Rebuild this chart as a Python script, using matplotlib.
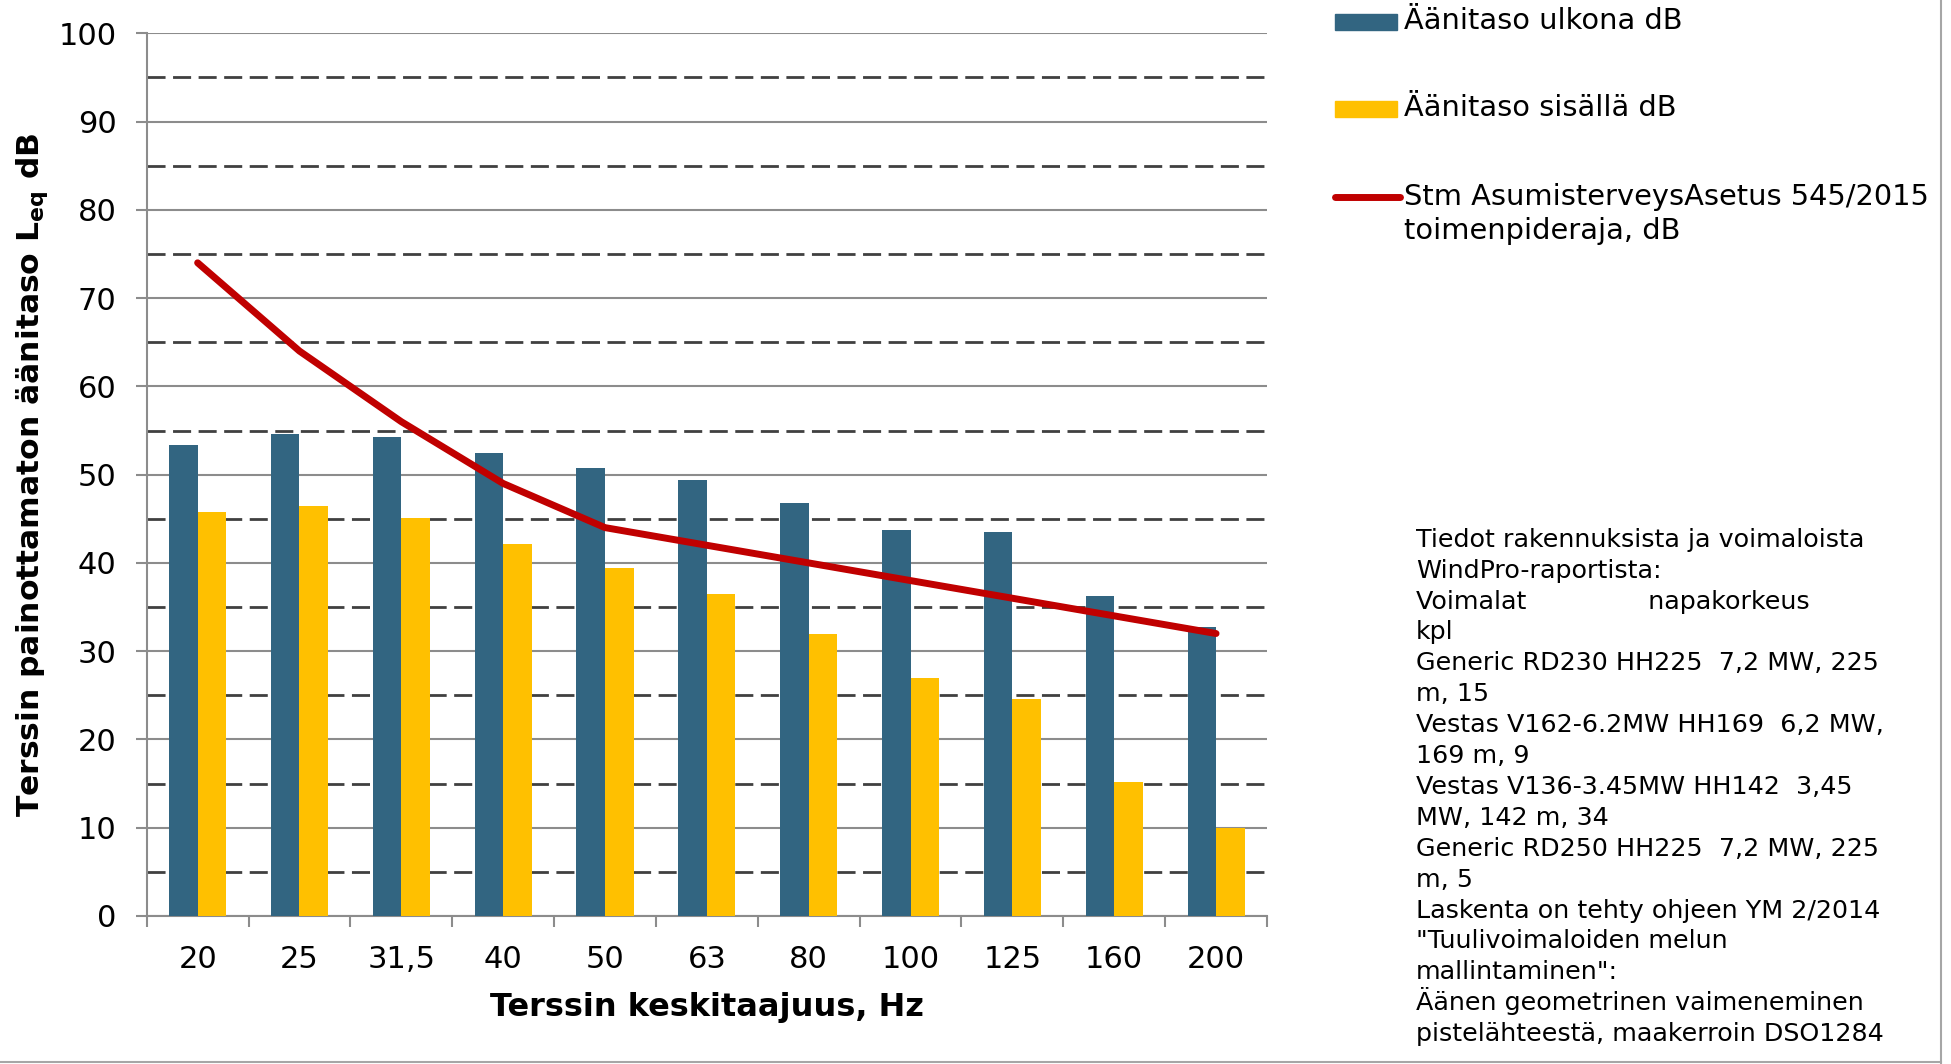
import numpy as np
import matplotlib.pyplot as plt
from matplotlib.lines import Line2D
from matplotlib.patches import Rectangle
from matplotlib.ticker import MultipleLocator

plt.rcParams["font.family"] = ["DejaVu Sans"]
plt.rcParams["mathtext.fontset"] = "dejavusans"

# data
taajuudet = ["20", "25", "31,5", "40", "50", "63", "80", "100", "125", "160", "200"]
ulkona = [53.4, 54.6, 54.3, 52.4, 50.8, 49.4, 46.8, 43.7, 43.5, 36.3, 32.7]
sisalla = [45.8, 46.4, 45.1, 42.2, 39.4, 36.5, 32.0, 27.0, 24.6, 15.2, 10.0]
raja = [74, 64, 56, 49, 44, 42, 40, 38, 36, 34, 32]

nimi_ulkona = "Äänitaso ulkona dB"
nimi_sisalla = "Äänitaso sisällä dB"
nimi_raja = ["Stm AsumisterveysAsetus 545/2015", "toimenpideraja, dB"]

tiedot = [
    "Tiedot rakennuksista ja voimaloista",
    "WindPro-raportista:",
    "Voimalat               napakorkeus",
    "kpl",
    "Generic RD230 HH225  7,2 MW, 225",
    "m, 15",
    "Vestas V162-6.2MW HH169  6,2 MW,",
    "169 m, 9",
    "Vestas V136-3.45MW HH142  3,45",
    "MW, 142 m, 34",
    "Generic RD250 HH225  7,2 MW, 225",
    "m, 5",
    "Laskenta on tehty ohjeen YM 2/2014",
    "\"Tuulivoimaloiden melun",
    "mallintaminen\":",
    "Äänen geometrinen vaimeneminen",
    "pistelähteestä, maakerroin DSO1284",
]

SININEN = "#326581"
KELTAINEN = "#FFC000"
PUNAINEN = "#C00000"
HARMAA = "#8c8c8c"

fig = plt.figure(figsize=(19.51, 10.64), dpi=100)
ax = fig.add_axes([0.0752, 0.1391, 0.5742, 0.8296])

x = np.arange(len(taajuudet))
w = 0.28
ax.bar(x - w / 2, ulkona, w, color=SININEN, zorder=3)
ax.bar(x + w / 2, sisalla, w, color=KELTAINEN, zorder=3)
ax.plot(x, raja, color=PUNAINEN, lw=5, solid_capstyle="round", zorder=4)

ax.set_xlim(-0.5, len(x) - 0.5)
ax.set_ylim(0, 100)
ax.yaxis.set_major_locator(MultipleLocator(10))
ax.yaxis.set_minor_locator(MultipleLocator(5))
ax.grid(axis="y", which="major", color=HARMAA, lw=1.5, zorder=1)
ax.grid(axis="y", which="minor", color="#404040", lw=2, ls=(0, (6.5, 2.7)), zorder=1)

ax.set_xticks(x, taajuudet)
ax.set_xticks(np.arange(-0.5, len(x), 1), minor=True)
ax.tick_params(axis="x", which="major", length=0, pad=21, labelsize=22)
ax.tick_params(axis="x", which="minor", length=7.7, width=1.5, color=HARMAA)
ax.tick_params(axis="y", which="major", length=7.7, width=1.5, color=HARMAA,
               pad=14, labelsize=22)
ax.tick_params(axis="y", which="minor", length=0)

for s in ["top", "right"]:
    ax.spines[s].set_visible(False)
for s in ["left", "bottom"]:
    ax.spines[s].set_color(HARMAA)
    ax.spines[s].set_linewidth(1.5)

ax.set_xlabel("Terssin keskitaajuus, Hz", fontsize=23, fontweight="bold", va="center")
ax.xaxis.set_label_coords(0.5, -0.104)
ax.set_ylabel(r"Terssin painottamaton äänitaso $\mathbf{L}_{\mathbf{eq}}$ dB",
              fontsize=22.6, fontweight="bold", va="center")
ax.yaxis.set_label_coords(-0.1025, 0.5)

# legend drawn by hand so the red handle sits on the first text line
fig.add_artist(Rectangle((0.6843, 0.9718), 0.0318, 0.015, color=SININEN,
                         transform=fig.transFigure))
fig.add_artist(Rectangle((0.6843, 0.8900), 0.0318, 0.015, color=KELTAINEN,
                         transform=fig.transFigure))
fig.add_artist(Line2D([0.6843, 0.7176], [0.8152, 0.8152], color=PUNAINEN, lw=5,
                      solid_capstyle="round", transform=fig.transFigure))
fig.text(0.7196, 0.9803, nimi_ulkona, fontsize=20.8, va="center")
fig.text(0.7196, 0.8985, nimi_sisalla, fontsize=20.8, va="center")
fig.text(0.7196, 0.8152, nimi_raja[0], fontsize=20.8, va="center")
fig.text(0.7196, 0.7825, nimi_raja[1], fontsize=20.8, va="center")

# info text, one line at a time for an even line pitch
rivivali = 0.02904
for i, rivi in enumerate(tiedot):
    fig.text(0.7258, 0.4861 - i * rivivali, rivi, fontsize=18.3, va="baseline")

# outer frame (right and bottom edges)
fig.add_artist(Line2D([0.9948, 0.9948], [0.0, 1.0], color="#a6a6a6", lw=1.5,
                      transform=fig.transFigure))
fig.add_artist(Line2D([0.0, 0.9948], [0.0015, 0.0015], color="#a6a6a6", lw=1.5,
                      transform=fig.transFigure))

fig.savefig("out.png", dpi=100)
